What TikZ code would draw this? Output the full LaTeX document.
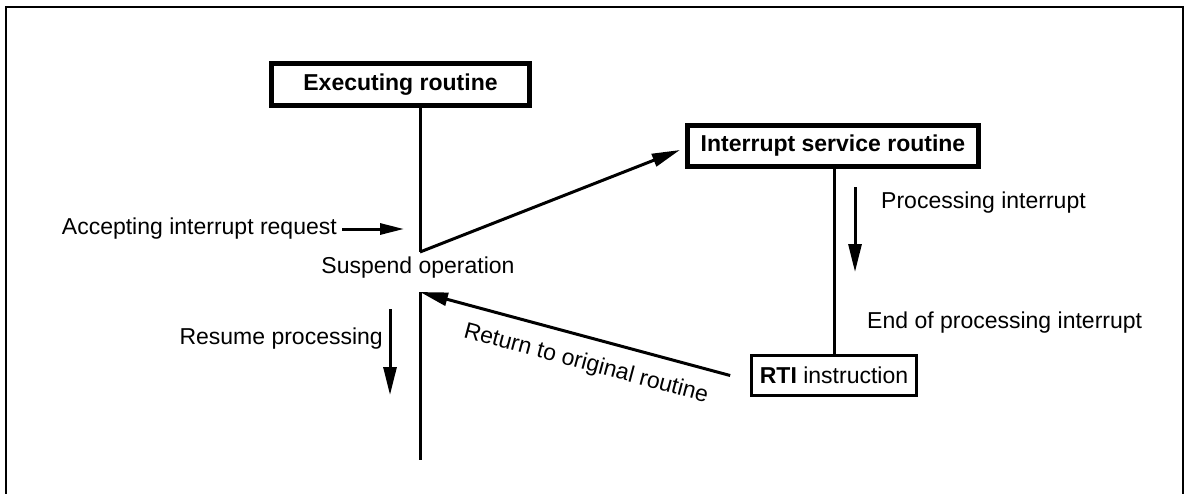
\documentclass[tikz,border=0pt]{standalone}
\usepackage{fontspec}
\setmainfont{Liberation Sans}
\usetikzlibrary{arrows.meta,calc}
\begin{document}
\begin{tikzpicture}[x=1pt,y=-1pt,
  every node/.style={font=\fontsize{23}{28}\selectfont, inner sep=0pt},
  thickbox/.style={draw, line width=4.7pt, minimum height=41.5pt, font=\fontsize{23}{28}\selectfont\bfseries},
  thinbox/.style={draw, line width=2.7pt, minimum height=40.5pt},
  conn/.style={line width=3pt},
  arr/.style={line width=3pt, -{Triangle[length=28pt,width=13pt]}},
  sarr/.style={line width=3pt, -{Triangle[length=24pt,width=11pt]}}
]
\useasboundingbox (0,0) rectangle (1190,493);
\fill[white] (0,0) rectangle (1190,493);
% frame
\draw[line width=1.8pt] (6,520) -- (6,7) -- (1183,7) -- (1183,520);

% boxes
\node[thickbox, minimum width=258pt] (exec) at (400.5,84.5) {Executing routine};
\node[thickbox, minimum width=291.5pt] (isr) at (833,146) {Interrupt service routine};
\node[thinbox, minimum width=165pt] (rti) at (834,375.5) {\textbf{RTI} instruction};

% key points
\coordinate (v1) at (420,252);
\coordinate (v2) at (420,292);
\coordinate (vend) at (420,460);
\coordinate (p1) at (855,187);
\coordinate (p2) at (855,272);
\coordinate (r1) at (390,309);
\coordinate (r2) at (390,395);
\coordinate (a2) at (404,229);

% connectors
\draw[conn] (exec.south -| v1) -- (v1);
\draw[arr] (v1) -- ([xshift=-5pt,yshift=-4pt]isr.west);
\draw[conn] (isr.south -| rti.north) -- (rti.north);
\draw[arr] ([xshift=-20pt]rti.west) -- (v2);
\draw[conn] (v2) -- (vend);
\draw[arr] (p1) -- (p2);
\draw[arr] (r1) -- (r2);

% labels
\node[anchor=east] (accept) at (337,229) {Accepting interrupt request};
\draw[sarr] (accept.east) ++(5,0) coordinate (a1) (a1) -- (a2);
\node (suspend) at (418,268) {Suspend operation};
\node[anchor=east] (resume) at (383,339) {Resume processing};
\node[anchor=west] (procint) at (881,203) {Processing interrupt};
\node[anchor=west] (endproc) at (867,323) {End of processing interrupt};
\node[rotate=-15] (ret) at (586,364) {Return to original routine};
\end{tikzpicture}
\end{document}
